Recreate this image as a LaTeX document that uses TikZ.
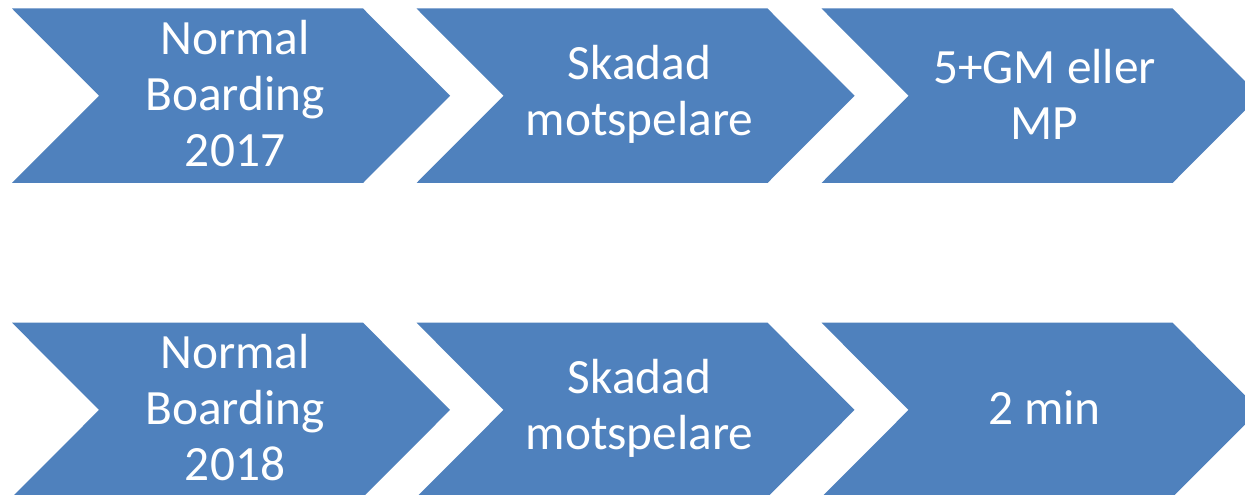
\documentclass[tikz,border=0pt]{standalone}
\usepackage{fontspec}
\setmainfont{Carlito}
\definecolor{chevblue}{HTML}{4F81BD}
\tikzset{
  chevfill/.style={fill=chevblue, draw=none},
  chevtext/.style={text=white, align=center, inner sep=0pt,
    font=\fontsize{37}{42}\selectfont}
}
\newcommand{\mychev}[2]{%
  \fill[chevfill] (#1,#2) -- ++(351,0) -- ++(87,87.25) -- ++(-87,87.25) -- ++(-351,0) -- ++(87,-87.25) -- cycle;}
\begin{document}
\begin{tikzpicture}[x=0.75pt,y=-0.75pt]
\useasboundingbox (0,0) rectangle (1245,495);
\clip (0,0) rectangle (1245,495);
\fill[white] (0,0) rectangle (1245,495);
% top row
\mychev{12}{8.5}
\mychev{416.5}{8.5}
\mychev{821.5}{8.5}
% bottom row
\mychev{12}{322.7}
\mychev{416.5}{322.7}
\mychev{821.5}{322.7}
\node[chevtext] (t1) at (235,94) {Normal\\Boarding\\2017};
\node[chevtext] (t2) at (639.5,94) {Skadad\\motspelare};
\node[chevtext] (t3) at (1044.5,94) {5+GM eller\\MP};
\node[chevtext] (b1) at (235,408) {Normal\\Boarding\\2018};
\node[chevtext] (b2) at (639.5,408) {Skadad\\motspelare};
\node[chevtext] (b3) at (1044.5,408) {2 min};
\end{tikzpicture}
\end{document}
